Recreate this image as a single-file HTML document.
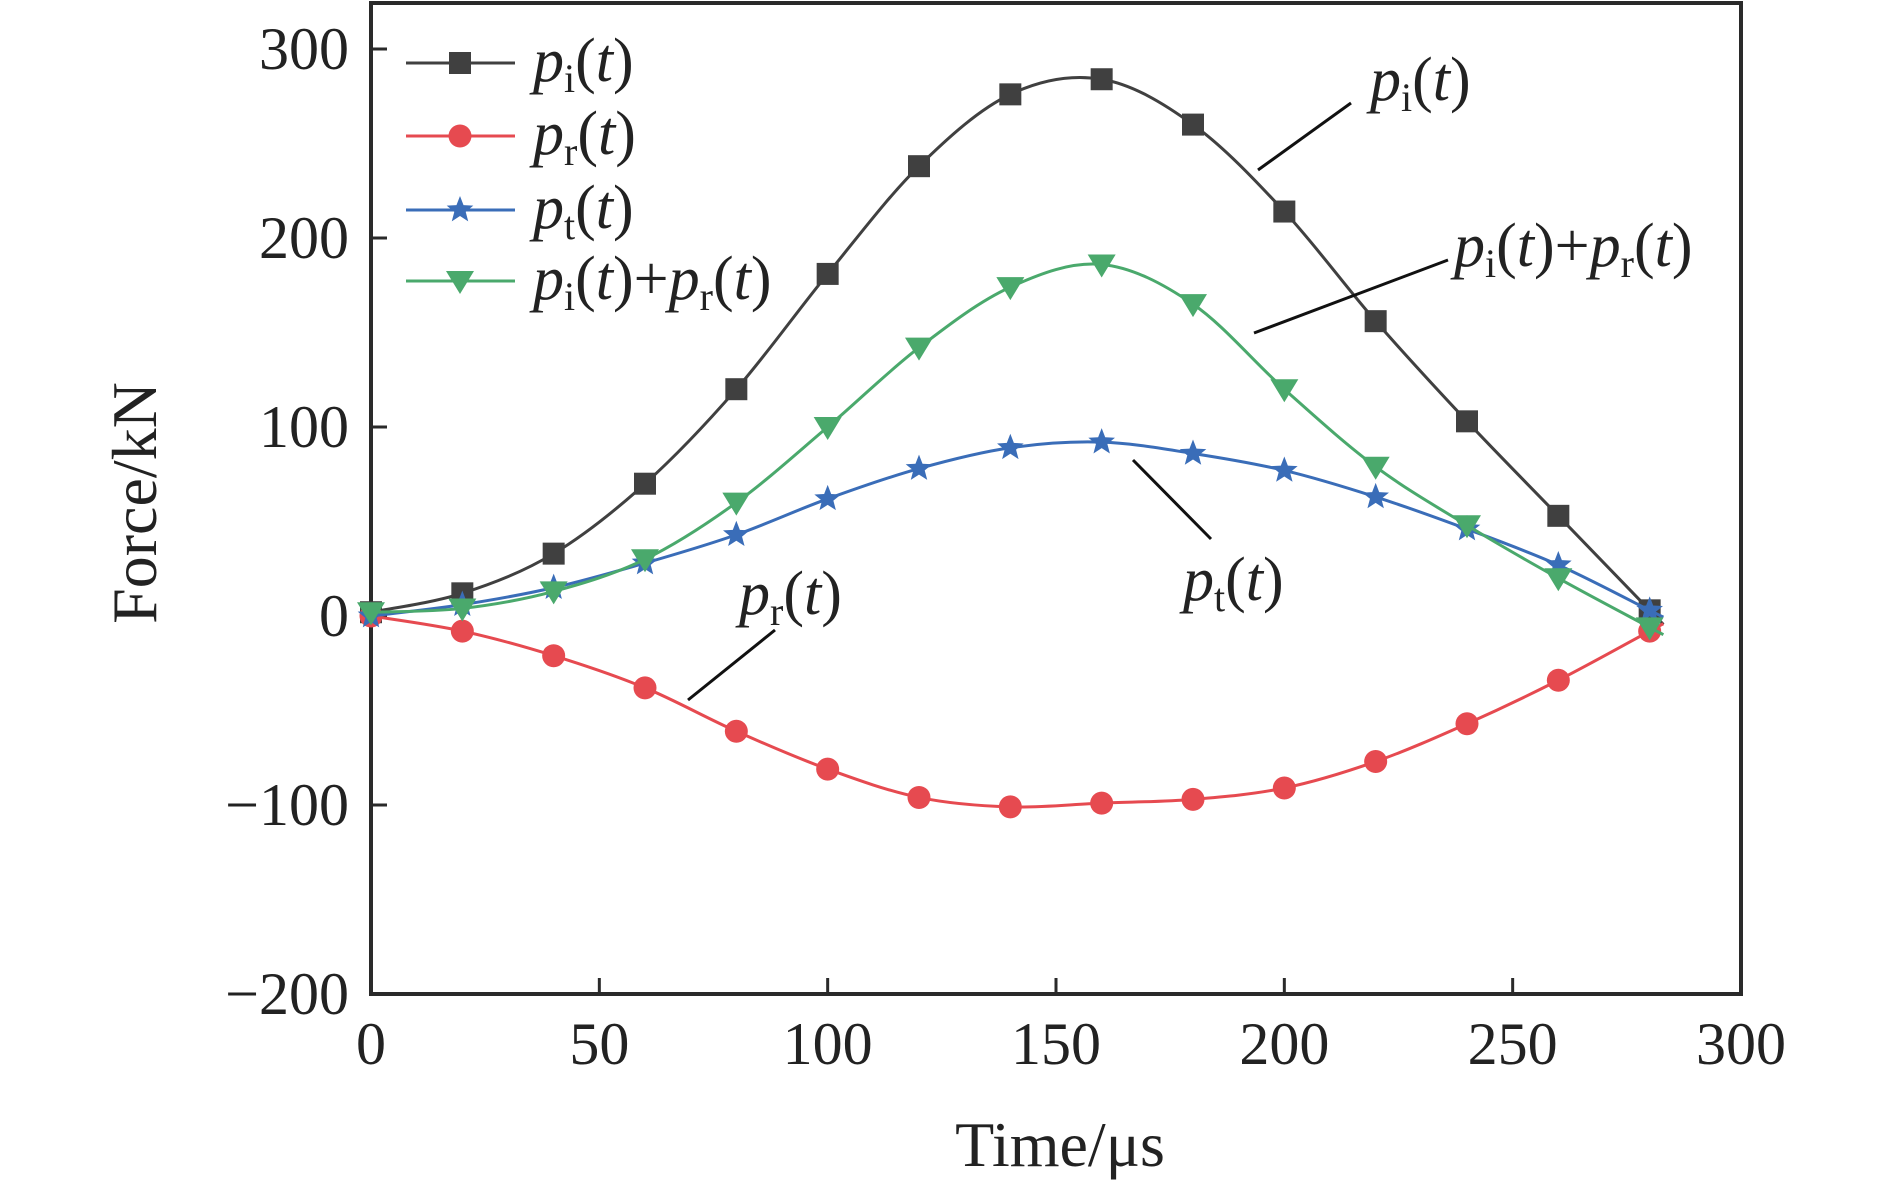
<!DOCTYPE html>
<html><head><meta charset="utf-8"><style>
body{margin:0;background:#fff}
svg{display:block}
text{font-family:"Liberation Serif",serif;fill:#222}
</style></head><body>
<svg id="c" width="1890" height="1183" viewBox="0 0 1890 1183">
<g id="axes"></g>
<g id="series"></g>
<g id="legend"></g>
<g id="ann"></g>
</svg>
<script>
const times=[0,20,40,60,80,100,120,140,160,180,200,220,240,260,280];
const piVals=[2,12,33,70,120,181,238,276,284,260,214,156,103,53,3];
const prVals=[0,-8,-21,-38,-61,-81,-96,-101,-99,-97,-91,-77,-57,-34,-8];
const ptVals=[0,6,15,28,43,62,78,89,92,86,77,63,46,27,3];
const sumVals=[2,4,13,30,60,100,142,174,186,165,120,79,48,20,-6];
const xTicks=[0,50,100,150,200,250,300];
const yTicks=[-200,-100,0,100,200,300];
const NS="http://www.w3.org/2000/svg";
const X0=371,X1=1741,Y0=994,Y1=49;
const xs=v=>X0+(v-0)/300*(X1-X0);
const ys=v=>Y0-(v+200)/500*(Y0-Y1);
function mk(p,tag,attrs){const e=document.createElementNS(NS,tag);for(const k in attrs)e.setAttribute(k,attrs[k]);p.appendChild(e);return e;}
const axes=document.getElementById('axes');
const frame=mk(axes,'rect',{x:X0,y:3,width:X1-X0,height:Y0-3,fill:'none',stroke:'#2a2a2a','stroke-width':4});


xTicks.forEach(t=>{
 const l=mk(axes,'line',{x1:xs(t),x2:xs(t),y1:Y0,y2:Y0-16,stroke:'#2a2a2a','stroke-width':3});
 
 
 const tx=mk(axes,'text',{x:xs(t),y:Y0+70,'text-anchor':'middle','font-size':60});
 tx.textContent=t;
 
 
});
yTicks.forEach(t=>{
 const l=mk(axes,'line',{x1:X0,x2:X0+16,y1:ys(t),y2:ys(t),stroke:'#2a2a2a','stroke-width':3});
 
 
 const tx=mk(axes,'text',{x:X0-22,y:ys(t)+20,'text-anchor':'end','font-size':60});
 tx.textContent=t<0?'\u2212'+(-t):t;
 
 
});
const xl=mk(axes,'text',{x:1060,y:1166,'text-anchor':'middle','font-size':64});
xl.textContent='Time/\u03bcs';


const yl=mk(axes,'text',{x:0,y:0,'text-anchor':'middle','font-size':64,transform:'translate(156,503) rotate(-90)'});
yl.textContent='Force/kN';



function path(vals){
 const p=times.map((t,i)=>[xs(t),ys(vals[i])]);
 const n=p.length;const last=p[n-1],prev=p[n-2];
 p.push([last[0]+(last[0]-prev[0])*0.15,last[1]+(last[1]-prev[1])*0.15]);
 let d='M'+p[0][0]+','+p[0][1];
 for(let i=0;i<p.length-1;i++){
  const a=p[Math.max(i-1,0)],b=p[i],c=p[i+1],e=p[Math.min(i+2,p.length-1)];
  const c1=[b[0]+(c[0]-a[0])/6,b[1]+(c[1]-a[1])/6],c2=[c[0]-(e[0]-b[0])/6,c[1]-(e[1]-b[1])/6];
  d+=` C${c1[0]},${c1[1]} ${c2[0]},${c2[1]} ${c[0]},${c[1]}`;
 }
 return d;
}
function marker(g,type,x,y,col){
 let e;
 if(type==='sq')e=mk(g,'rect',{x:x-11,y:y-11,width:22,height:22,fill:col});
 else if(type==='ci')e=mk(g,'circle',{cx:x,cy:y,r:11.5,fill:col});
 else if(type==='st'){let pts=[];for(let k=0;k<10;k++){const r=k%2?6:14,a=-Math.PI/2+k*Math.PI/5;pts.push((x+r*Math.cos(a))+','+(y+r*Math.sin(a)));}e=mk(g,'polygon',{points:pts.join(' '),fill:col});}
 else e=mk(g,'polygon',{points:`${x-14},${y-10} ${x+14},${y-10} ${x},${y+13}`,fill:col});
 return e;
}
const seriesDefs=[[piVals,'#404040','sq','series-pi'],[prVals,'#e64a50','ci','series-pr'],[ptVals,'#3a6db8','st','series-pt'],[sumVals,'#4aa96c','tr','series-pi-plus-pr']];
const sg=document.getElementById('series');
seriesDefs.forEach(([vals,col,m,name])=>{
 const g=mk(sg,'g',{});
 
 
 const ln=mk(g,'path',{d:path(vals),fill:'none',stroke:col,'stroke-width':3});
 
 
 times.forEach((t,i)=>{
  const mm=marker(g,m,xs(t),ys(vals[i]),col);
  
  
 });
});
const lg=document.getElementById('legend');
const labels=['<tspan font-style="italic">p</tspan><tspan font-size="40" dy="11">i</tspan><tspan dy="-11">(</tspan><tspan font-style="italic">t</tspan>)',
'<tspan font-style="italic">p</tspan><tspan font-size="40" dy="11">r</tspan><tspan dy="-11">(</tspan><tspan font-style="italic">t</tspan>)',
'<tspan font-style="italic">p</tspan><tspan font-size="40" dy="11">t</tspan><tspan dy="-11">(</tspan><tspan font-style="italic">t</tspan>)',
'<tspan font-style="italic">p</tspan><tspan font-size="40" dy="11">i</tspan><tspan dy="-11">(</tspan><tspan font-style="italic">t</tspan>)+<tspan font-style="italic">p</tspan><tspan font-size="40" dy="11">r</tspan><tspan dy="-11">(</tspan><tspan font-style="italic">t</tspan>)'];
const ly=[63,136,210,281];
seriesDefs.forEach(([vals,col,m,name],i)=>{
 const g=mk(lg,'g',{});
 
 
 mk(g,'line',{x1:406,x2:515,y1:ly[i],y2:ly[i],stroke:col,'stroke-width':3});
 marker(g,m,460,ly[i],col);
 const t=mk(g,'text',{x:533,y:ly[i]+18,'font-size':62});
 t.innerHTML=labels[i];
});
const an=document.getElementById('ann');
const anns=[[0,1370,100,1351,103,1258,170],[3,1454,266,1448,260,1254,333],[2,1183,600,1211,539,1133,460],[1,739,614,775,630,688,700]];
anns.forEach(([li,tx,ty,x1,y1,x2,y2])=>{
 const g=mk(an,'g',{});
 
 
 mk(g,'line',{x1:x1,y1:y1,x2:x2,y2:y2,stroke:'#111','stroke-width':3});
 const t=mk(g,'text',{x:tx,y:ty,'font-size':62});
 t.innerHTML=labels[li];
});
</script>
</body></html>
